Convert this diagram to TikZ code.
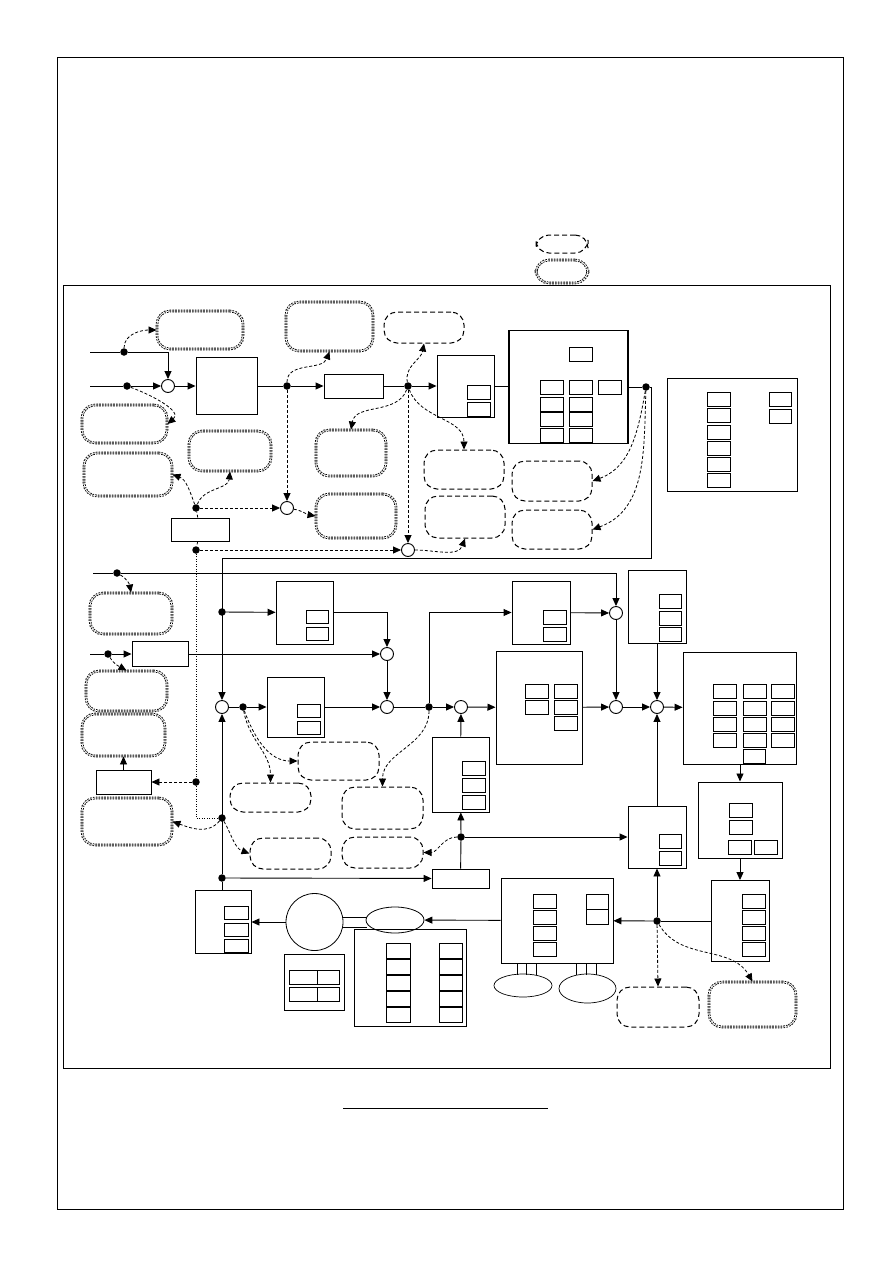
\documentclass[tikz,border=0pt]{standalone}
\usepackage{tikz}
\usetikzlibrary{arrows.meta,shapes.geometric}
\tikzset{
  sz/.style n args={2}{minimum width=#1pt,minimum height=#2pt},
  blk/.style={draw,line width=0.9pt,inner sep=0pt},
  sumj/.style={draw,circle,line width=0.9pt,minimum size=13pt,inner sep=0pt,fill=white},
  jdot/.style={circle,fill,minimum size=7.5pt,inner sep=0pt},
  dpill/.style={draw,rounded corners=13pt,line width=1pt,dash pattern=on 5pt off 3pt,inner sep=0pt},
  tpill/.style={draw,rounded corners=13pt,double,double distance=0.8pt,line width=0.9pt,dash pattern=on 1.6pt off 1.2pt,inner sep=0pt},
  sig/.style={line width=0.9pt},
  aux/.style={line width=0.8pt,dash pattern=on 3pt off 2pt},
  fine/.style={line width=0.7pt,dash pattern=on 1pt off 1.5pt},
  cell/.style={line width=0.8pt},
  >={Triangle[length=8pt,width=7pt]}
}
\begin{document}
\begin{tikzpicture}[x=1pt,y=-1pt]
    \useasboundingbox (0,0) rectangle (893,1263);
    \draw[line width=0.9pt] (57,57) rectangle (843,1209);
    \draw[line width=0.9pt] (63,285) rectangle (830,1068);
    \draw[line width=1pt] (343,1108) -- (548,1108);
    \node[dpill,sz={52}{18}] (leg1) at (562,244) {};
    \node[tpill,sz={52}{23}] (leg2) at (562,271.5) {};

    % upper loop
    \node[blk,sz={61}{57}] (c1) at (226.5,386) {};
    \node[blk,sz={59}{24}] (c2) at (353.5,386) {};
    \node[blk,sz={57}{62}] (c3) at (465.5,386) {};
    \node[blk,line width=1.1pt,sz={119}{113}] (c4) at (568.5,387) {};
    \node[blk,sz={130}{113}] (c5) at (732,434.5) {};
    \node[blk,sz={58}{23}] (c6) at (200,529.5) {};
    \node[sumj] (s1) at (168,386) {};
    \node[sumj] (s2) at (287,508) {};
    \node[sumj] (s4) at (408,550) {};
    \node[jdot] (din1) at (124,352) {};
    \node[jdot] (din2) at (127,386) {};
    \node[jdot] (d1) at (287,386) {};
    \node[jdot] (d2) at (408,386) {};
    \node[jdot] (d3) at (646,387) {};
    \node[jdot] (d4) at (196,508) {};
    \node[jdot] (d5) at (196,550) {};
    \coordinate (in1) at (90,352);
    \coordinate (in2) at (90,386);
    \coordinate (rt) at (651,558);
    \coordinate (lt) at (222,558);

    \node[tpill,sz={86}{38}] (a1) at (200,330) {};
    \node[tpill,sz={85}{38}] (a2) at (124.5,424) {};
    \node[tpill,sz={88}{43}] (a3) at (128,474.5) {};
    \node[tpill,sz={82}{40}] (a4) at (230,451) {};
    \node[tpill,sz={87}{49}] (a5) at (329.5,326.5) {};
    \node[tpill,sz={70}{46}] (a6) at (351,453) {};
    \node[tpill,sz={80}{44}] (a7) at (356,516) {};
    \node[dpill,sz={80}{31}] (b1) at (424,327.5) {};
    \node[dpill,sz={80}{39}] (b2) at (464,469.5) {};
    \node[dpill,sz={80}{42}] (b3) at (465,517) {};
    \node[dpill,sz={80}{40}] (b4) at (552,481) {};
    \node[dpill,sz={80}{39}] (b5) at (552,529.5) {};

    \foreach \x/\y in {467/385,467/402} \draw[cell] (\x,\y) rectangle ++(23,14);
    \foreach \x/\y in {569/347,540/380,569/380,598/380,540/397,569/397,540/412,569/412,540/428,569/428}
      \draw[cell] (\x,\y) rectangle ++(23,14);
    \foreach \y in {392,408,425,441,457,473} \draw[cell] (707,\y) rectangle ++(23,14);
    \foreach \y in {392,409} \draw[cell] (769,\y) rectangle ++(22,14);

    \draw[sig] (in1) -- (din1);
    \draw[sig,->] (din1) -| (s1);
    \draw[sig] (in2) -- (din2);
    \draw[sig,->] (din2) -- (s1);
    \draw[sig,->] (s1) -- (c1);
    \draw[sig] (c1) -- (d1);
    \draw[sig,->] (d1) -- (c2);
    \draw[sig] (c2) -- (d2);
    \draw[sig,->] (d2) -- (c3);
    \draw[sig] (c3.east) -- (c3.east -| c4.west);
    \draw[sig] (c4.east |- d3) -- (d3);

    \draw[aux,->] (din1) to[out=90,in=180] (a1.west);
    \draw[aux,->] (din2) to[out=-20,in=40] (a2.east);
    \draw[aux] (c6) -- (d4);
    \draw[aux] (c6) -- (d5);
    \draw[aux,->] (d4) to[out=110,in=-20] (a3.east);
    \draw[aux,->] (d4) to[out=70,in=-95] (a4.south);
    \draw[aux,->] (d4) -- (s2);
    \draw[aux,->] (d1) to[out=90,in=-110] (a5.south);
    \draw[aux,->] (d1) -- (s2);
    \draw[aux,->] (s2) to[out=-10,in=170] (a7.west);
    \draw[aux,->] (d2) to[out=100,in=-100] (b1.south);
    \draw[aux,->] (d2) to[out=-110,in=80] (a6.north);
    \draw[aux,->] (d2) to[out=-70,in=90] (b2.north);
    \draw[aux,->] (d2) -- (s4);
    \draw[aux,->] (d5) -- (s4);
    \draw[aux,->] (s4) to[out=0,in=-110] (b3.south);
    \draw[aux,->] (d3) to[out=-100,in=20] (b4.east);
    \draw[aux,->] (d3) to[out=-92,in=20] (b5.east);

    % lower loop
    \node[blk,sz={57}{63}] (m1) at (304.5,612.5) {};
    \node[blk,sz={56}{25}] (m2) at (160,654) {};
    \node[blk,sz={57}{60}] (m3) at (295.5,707) {};
    \node[blk,line width=1pt,sz={86}{113}] (m4) at (539,707.5) {};
    \node[blk,sz={58}{63}] (m5) at (541,612.5) {};
    \node[blk,line width=1pt,sz={58}{73}] (m6) at (657,606.5) {};
    \node[blk,sz={113}{112}] (m7) at (739.5,708) {};
    \node[blk,line width=1pt,sz={84}{76}] (m8) at (740,820) {};
    \node[blk,sz={58}{81}] (m9) at (740,921) {};
    \node[blk,sz={57}{75}] (m10) at (460.5,774.5) {};
    \node[blk,sz={58}{62}] (m11) at (657,837) {};
    \node[blk,sz={57}{19}] (m12) at (460.5,878.5) {};
    \node[blk,sz={56}{63}] (m13) at (223,922) {};
    \node[blk,sz={55}{24}] (c7) at (123.5,782) {};
    \node[sumj] (s3) at (222,707) {};
    \node[sumj] (s5) at (387,654) {};
    \node[sumj] (s6) at (387,707) {};
    \node[sumj] (s7) at (461,707) {};
    \node[sumj] (s9) at (616,613) {};
    \node[sumj] (s10) at (616,707) {};
    \node[sumj] (s11) at (657,707) {};
    \node[jdot] (dl1) at (117,573) {};
    \node[jdot] (dm1) at (222,612) {};
    \node[jdot] (dm2) at (108,654) {};
    \node[jdot] (d6) at (243,707) {};
    \node[jdot] (d7) at (429,707) {};
    \node[jdot] (d8) at (461,837) {};
    \node[jdot] (d9) at (222,878) {};
    \node[jdot] (dq) at (222,818) {};
    \node[jdot] (dc7) at (196,782) {};
    \coordinate (in3) at (93,573);
    \coordinate (in4) at (90,654);

    \node[tpill,sz={82}{41}] (p1) at (131,613.5) {};
    \node[tpill,sz={81}{40}] (p2) at (126.5,691) {};
    \node[tpill,sz={83}{42}] (p3) at (123.5,735) {};
    \node[tpill,sz={90}{47}] (p4) at (127,821.5) {};
    \node[dpill,sz={81}{38}] (q1) at (338.5,761) {};
    \node[dpill,sz={81}{29}] (q2) at (270.5,797.5) {};
    \node[dpill,sz={81}{42}] (q3) at (382.5,808) {};
    \node[dpill,sz={81}{31}] (q4) at (382.5,852.5) {};
    \node[dpill,sz={81}{31}] (q5) at (290.5,853.5) {};

    \foreach \y in {610,627} \draw[cell] (306,\y) rectangle ++(22,13);
    \foreach \y in {704,721} \draw[cell] (297,\y) rectangle ++(23,13);
    \foreach \y in {610,627} \draw[cell] (543,\y) rectangle ++(23,14);
    \foreach \x/\y in {525/684,554/684,525/700,554/700,554/716} \draw[cell] (\x,\y) rectangle ++(23,14);
    \foreach \y in {594,611,627} \draw[cell] (659,\y) rectangle ++(22,14);
    \foreach \x in {713,743,771}
      \foreach \y in {684,701,717,733} \draw[cell] (\x,\y) rectangle ++(23,14);
    \draw[cell] (743,749) rectangle ++(22,14);
    \foreach \x/\y in {729/803,729/820,728/840,754/840} \draw[cell] (\x,\y) rectangle ++(23,14);
    \foreach \y in {894,910,926,942} \draw[cell] (742,\y) rectangle ++(23,14);
    \foreach \y in {761,778,795} \draw[cell] (462,\y) rectangle ++(23,14);
    \foreach \y in {834,851} \draw[cell] (659,\y) rectangle ++(22,14);
    \foreach \y in {906,923,939} \draw[cell] (224,\y) rectangle ++(24,13);

    \draw[sig,->] (d3) -| (rt) -- (lt) -- (s3);
    \draw[sig] (in3) -- (dl1);
    \draw[sig,->] (dl1) -| (s9);
    \draw[sig,->] (dm1) -- (m1);
    \draw[sig,->] (m1) -| (s5);
    \draw[sig] (in4) -- (dm2);
    \draw[sig,->] (dm2) -- (m2);
    \draw[sig,->] (m2) -- (s5);
    \draw[sig,->] (s5) -- (s6);
    \draw[sig] (s3) -- (d6);
    \draw[sig,->] (d6) -- (m3);
    \draw[sig,->] (m3) -- (s6);
    \draw[sig] (s6) -- (d7);
    \draw[sig,->] (d7) -- (s7);
    \draw[sig,->] (s7) -- (m4);
    \draw[sig,->] (d7) |- (m5);
    \draw[sig,->] (m5) -- (s9);
    \draw[sig,->] (s9) -- (s10);
    \draw[sig,->] (m4) -- (s10);
    \draw[sig,->] (s10) -- (s11);
    \draw[sig,->] (m6) -- (s11);
    \draw[sig,->] (s11) -- (m7);
    \draw[sig,->] (m7.south -| m8) -- (m8);
    \draw[sig,->] (m8) -- (m9);
    \draw[sig,->] (m10) -- (s7);
    \draw[sig] (m12) -- (d8);
    \draw[sig,->] (d8) -- (m10);
    \draw[sig,->] (d8) -- (m11);
    \draw[sig,->] (m11) -- (s11);
    \draw[sig] (m13.north -| s3) -- (d9);
    \draw[sig,->] (d9) -- (s3);
    \draw[sig,->] (d9) -- (m12);
    \draw[sig,->] (c7) -- (p3.south);

    \draw[aux,->] (dl1) to[out=-30,in=100] (p1.north);
    \draw[aux,->] (dm2) to[out=-60,in=150] (p2.north);
    \draw[fine] (d5) |- (dq);
    \draw[aux,->] (dc7) -- (c7);
    \draw[aux,->] (dq) to[out=-130,in=-20] (p4.east);
    \draw[aux,->] (dq) to[out=-60,in=160] (q5.west);
    \draw[aux,->] (d6) to[out=-80,in=90] (q2.north);
    \draw[aux,->] (d6) to[out=-70,in=180] (q1.west);
    \draw[aux,->] (d7) to[out=-90,in=90] (q3.north);
    \draw[aux,->] (d8) to[out=180,in=0] (q4.east);

    % drive and motor
    \node[draw,circle,line width=0.8pt,minimum size=57pt,inner sep=0pt] (motor) at (314.5,922) {};
    \node[draw,ellipse,line width=0.8pt,minimum width=58pt,minimum height=26pt,inner sep=0pt] (enc) at (395,920) {};
    \node[blk,sz={60}{56}] (e1) at (314,982) {};
    \node[blk,line width=1pt,sz={112}{97}] (e2) at (410,977.5) {};
    \node[blk,sz={112}{85}] (f1) at (557,920.5) {};
    \node[draw,ellipse,line width=0.7pt,minimum width=58pt,minimum height=23pt,inner sep=0pt] (g1) at (523,985.5) {};
    \node[draw,ellipse,line width=0.7pt,minimum width=57pt,minimum height=29pt,inner sep=0pt] (g2) at (587.5,988.5) {};
    \node[jdot] (d10) at (657,921) {};
    \node[dpill,sz={82}{40}] (r1) at (658,1007) {};
    \node[tpill,sz={87}{45}] (r2) at (752.5,1004.5) {};

    \draw[line width=0.7pt] (343,917) -- (367,917) (343,927) -- (367,927);
    \draw[cell] (289,970) rectangle (317,984) (317,970) rectangle (339,984);
    \draw[cell] (289,987) rectangle (317,1001) (317,987) rectangle (339,1001);
    \foreach \y in {943,959,975,991,1007} {
      \draw[cell] (386,\y) rectangle ++(24,15);
      \draw[cell] (439,\y) rectangle ++(23,15);
    }
    \foreach \y in {894,910,926,942} \draw[cell] (533,\y) rectangle ++(23,14);
    \foreach \y in {894,909} \draw[cell] (586,\y) rectangle ++(22,15);
    \foreach \x in {517,526,536,576,586,596} \draw[line width=0.7pt] (\x,963) -- (\x,975);

    \draw[sig,->] (motor) -- (m13);
    \draw[sig,->] (f1) -- (enc);
    \draw[sig] (m9) -- (d10);
    \draw[sig,->] (d10) -- (f1);
    \draw[sig,->] (d10) -- (m11);
    \draw[aux,->] (d10) -- (r1.north);
    \draw[aux,->] (d10) to[out=-60,in=120] (r2.north);
  \end{tikzpicture}
\end{document}
